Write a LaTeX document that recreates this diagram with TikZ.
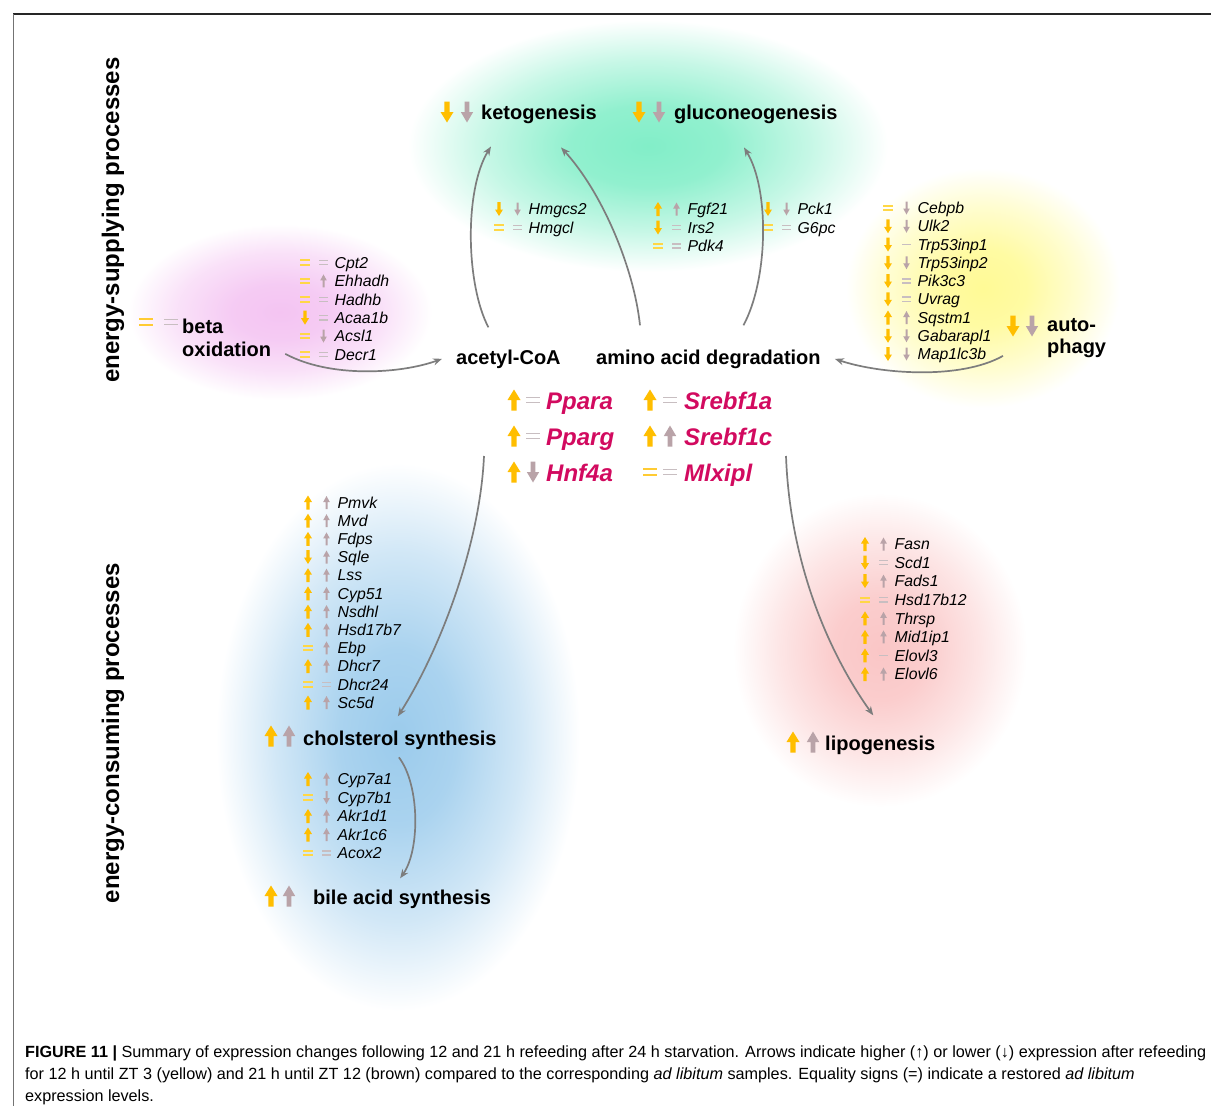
\documentclass[tikz,border=0pt]{standalone}
\usepackage{fontspec}
\setmainfont{Liberation Sans}
\usetikzlibrary{arrows.meta}
\definecolor{ylw}{RGB}{255,190,0}
\definecolor{ylwl}{RGB}{255,215,70}
\definecolor{brn}{RGB}{185,163,168}
\definecolor{brnl}{RGB}{200,190,193}
\definecolor{regc}{RGB}{210,10,95}
\definecolor{lnk}{RGB}{125,125,125}
\definecolor{cG}{RGB}{130,238,200}
\definecolor{cP}{RGB}{244,196,242}
\definecolor{cY}{RGB}{255,250,150}
\definecolor{cB}{RGB}{155,203,236}
\definecolor{cR}{RGB}{250,198,198}
\pgfdeclareradialshading{blobG}{\pgfpoint{0bp}{0bp}}{color(0bp)=(cG); color(8bp)=(cG!88!white); color(17bp)=(cG!45!white); color(25bp)=(white); color(50bp)=(white)}
\pgfdeclareradialshading{blobP}{\pgfpoint{0bp}{0bp}}{color(0bp)=(cP); color(8bp)=(cP!88!white); color(17bp)=(cP!50!white); color(25bp)=(white); color(50bp)=(white)}
\pgfdeclareradialshading{blobY}{\pgfpoint{0bp}{0bp}}{color(0bp)=(cY); color(8bp)=(cY!88!white); color(17bp)=(cY!45!white); color(25bp)=(white); color(50bp)=(white)}
\pgfdeclareradialshading{blobB}{\pgfpoint{0bp}{0bp}}{color(0bp)=(cB); color(8bp)=(cB!85!white); color(17bp)=(cB!45!white); color(25bp)=(white); color(50bp)=(white)}
\pgfdeclareradialshading{blobR}{\pgfpoint{0bp}{0bp}}{color(0bp)=(cR); color(8bp)=(cR!88!white); color(17bp)=(cR!45!white); color(25bp)=(white); color(50bp)=(white)}
\newcommand\myfs[1]{\fontsize{#1}{#1}\selectfont}
\tikzset{
  pics/yup/.style={code={\fill[ylw] (-1.6,7) -- (1.6,7) -- (1.6,-0.5) -- (4,-0.5) -- (0,-7) -- (-4,-0.5) -- (-1.6,-0.5) -- cycle;}},
  pics/ydn/.style={code={\fill[ylw] (-1.6,-7) -- (1.6,-7) -- (1.6,0.5) -- (4,0.5) -- (0,7) -- (-4,0.5) -- (-1.6,0.5) -- cycle;}},
  pics/yeq/.style={code={\fill[ylwl] (-5,-3.2) rectangle (5,-1.2); \fill[ylwl] (-5,1.2) rectangle (5,3.2);}},
  pics/gup/.style={code={\fill[brn] (-1,6.5) -- (1,6.5) -- (1,-0.5) -- (3.3,-0.5) -- (0,-6.5) -- (-3.3,-0.5) -- (-1,-0.5) -- cycle;}},
  pics/gdn/.style={code={\fill[brn] (-1,-6.5) -- (1,-6.5) -- (1,0.5) -- (3.3,0.5) -- (0,6.5) -- (-3.3,0.5) -- (-1,0.5) -- cycle;}},
  pics/geq/.style={code={\fill[brnl] (-4.5,-2.8) rectangle (4.5,-1.3); \fill[brnl] (-4.5,1.3) rectangle (4.5,2.8);}},
  pics/gdash/.style={code={\fill[brnl] (-4.5,-0.8) rectangle (4.5,0.8);}},
  pics/Yup/.style={code={\fill[ylw] (-2.6,10.5) -- (2.6,10.5) -- (2.6,0) -- (6.5,0) -- (0,-10.5) -- (-6.5,0) -- (-2.6,0) -- cycle;}},
  pics/Ydn/.style={code={\fill[ylw] (-2.6,-10.5) -- (2.6,-10.5) -- (2.6,0) -- (6.5,0) -- (0,10.5) -- (-6.5,0) -- (-2.6,0) -- cycle;}},
  pics/Gup/.style={code={\fill[brn] (-2.4,10.5) -- (2.4,10.5) -- (2.4,0) -- (6.2,0) -- (0,-10.5) -- (-6.2,0) -- (-2.4,0) -- cycle;}},
  pics/Gdn/.style={code={\fill[brn] (-2.4,-10.5) -- (2.4,-10.5) -- (2.4,0) -- (6.2,0) -- (0,10.5) -- (-6.2,0) -- (-2.4,0) -- cycle;}},
  pics/Yeq/.style={code={\fill[ylw!80!white] (-7,-4) rectangle (7,-1.6); \fill[ylw!80!white] (-7,1.6) rectangle (7,4);}},
  pics/Geq/.style={code={\fill[brnl] (-7,-3.4) rectangle (7,-1.7); \fill[brnl] (-7,1.7) rectangle (7,3.4);}},
  gene/.style={anchor=base west, inner sep=0pt, font=\myfs{15.8}\itshape},
  proc/.style={anchor=base west, inner sep=0pt, font=\myfs{20}\bfseries},
  regn/.style={anchor=base west, inner sep=0pt, font=\myfs{24}\bfseries\itshape, text=regc},
  side/.style={inner sep=0pt, font=\myfs{24}\bfseries, rotate=90},
  capt/.style={anchor=base west, inner sep=0pt, font=\myfs{16.2}},
  conn/.style={draw=lnk, line width=1.7pt, -{Stealth[length=9pt,width=7pt]}},
}
\newcommand\gn[6]{\pic at (#2,#3) {#4}; \pic at (#2+18.5,#3) {#5}; \node[gene] (#1) at (#2+29.5,#3+5.7) {#6};}
\begin{document}
\begin{tikzpicture}[x=1pt,y=-1pt]
\useasboundingbox (0,0) rectangle (1211,1106);
\fill[white] (0,0) rectangle (1211,1106);
% background blobs
\shade[shading=blobG] (648,146) ellipse [x radius=240, y radius=126];
\shade[shading=blobP] (280,312) ellipse [x radius=152, y radius=88];
\shade[shading=blobY] (983,288) ellipse [x radius=137, y radius=120];
\shade[shading=blobB] (398,737) ellipse [x radius=182, y radius=274];
\shade[shading=blobR] (880,650) ellipse [x radius=147, y radius=157];
% frame
\draw[black!85, line width=1.5pt] (13,14) -- (1211,14);
\draw[black!55, line width=1pt] (13,14) -- (13,1106);
% side labels
\node[side] (esup) at (113,220) {energy-supplying processes};
\node[side] (econ) at (113,733) {energy-consuming processes};
% process labels
\pic at (447,112) {Ydn}; \pic at (467,112) {Gdn};
\node[proc] (keto) at (481,119) {ketogenesis};
\pic at (639,112) {Ydn}; \pic at (659,112) {Gdn};
\node[proc] (gluco) at (674,119) {gluconeogenesis};
\pic at (146,322) {Yeq}; \pic at (171,322) {Geq};
\node[proc] (betaA) at (182,333) {beta};
\node[proc] (betaB) at (182,356) {oxidation};
\pic at (1013,326) {Ydn}; \pic at (1032,326) {Gdn};
\node[proc] (autoA) at (1047,331) {auto-};
\node[proc] (autoB) at (1047,353) {phagy};
\node[proc] (acetyl) at (456,364) {acetyl-CoA};
\node[proc] (amino) at (596,364) {amino acid degradation};
\pic at (271,736) {Yup}; \pic at (289,736) {Gup};
\node[proc] (chol) at (303,745) {cholsterol synthesis};
\pic at (271,896) {Yup}; \pic at (289,896) {Gup};
\node[proc] (bile) at (313,904) {bile acid synthesis};
\pic at (793,742) {Yup}; \pic at (813,742) {Gup};
\node[proc] (lipo) at (825,750) {lipogenesis};
% regulators
\pic at (514,400) {Yup}; \pic at (533,400) {Geq}; \node[regn] (ppara) at (546,409) {Ppara};
\pic at (514,436) {Yup}; \pic at (533,436) {Geq}; \node[regn] (pparg) at (546,445) {Pparg};
\pic at (514,472) {Yup}; \pic at (533,472) {Gdn}; \node[regn] (hnf) at (546,481) {Hnf4a};
\pic at (650,400) {Yup}; \pic at (670,400) {Geq}; \node[regn] (sra) at (684,409) {Srebf1a};
\pic at (650,436) {Yup}; \pic at (670,436) {Gup}; \node[regn] (src) at (684,445) {Srebf1c};
\pic at (650,472) {Yeq}; \pic at (670,472) {Geq}; \node[regn] (mlx) at (684,481) {Mlxipl};
\coordinate (regL) at (484,456);
\coordinate (regR) at (786,456);
% ketogenesis / gluconeogenesis genes
\gn{hmgcs}{499}{209}{ydn}{gdn}{Hmgcs2}
\gn{hmgcl}{499}{227.5}{yeq}{geq}{Hmgcl}
\gn{fgf}{658}{209}{yup}{gup}{Fgf21}
\gn{irs}{658}{227.5}{ydn}{geq}{Irs2}
\gn{pdk}{658}{246}{yeq}{geq}{Pdk4}
\gn{pck}{768}{209}{ydn}{gdn}{Pck1}
\gn{gsp}{768}{227.5}{yeq}{geq}{G6pc}
% beta oxidation genes
\gn{cpt}{305}{262.5}{yeq}{geq}{Cpt2}
\gn{ehh}{305}{280.9}{yeq}{gup}{Ehhadh}
\gn{had}{305}{299.3}{yeq}{geq}{Hadhb}
\gn{aca}{305}{317.7}{ydn}{geq}{Acaa1b}
\gn{acs}{305}{336.1}{yeq}{gdn}{Acsl1}
\gn{dec}{305}{354.5}{yeq}{geq}{Decr1}
% autophagy genes
\gn{ceb}{888}{208}{yeq}{gdn}{Cebpb}
\gn{ulk}{888}{226.25}{ydn}{gdn}{Ulk2}
\gn{trpa}{888}{244.5}{ydn}{gdash}{Trp53inp1}
\gn{trpb}{888}{262.75}{ydn}{gdn}{Trp53inp2}
\gn{pik}{888}{281}{ydn}{geq}{Pik3c3}
\gn{uvr}{888}{299.25}{ydn}{geq}{Uvrag}
\gn{sqs}{888}{317.5}{yup}{gup}{Sqstm1}
\gn{gab}{888}{335.75}{ydn}{gdn}{Gabarapl1}
\gn{map}{888}{354}{ydn}{gdn}{Map1lc3b}
% cholesterol genes
\gn{pmv}{308}{502.5}{yup}{gup}{Pmvk}
\gn{mvd}{308}{520.7}{yup}{gup}{Mvd}
\gn{fdp}{308}{538.9}{yup}{gup}{Fdps}
\gn{sql}{308}{557}{ydn}{gup}{Sqle}
\gn{lss}{308}{575.2}{yup}{gup}{Lss}
\gn{cyp}{308}{593.4}{yup}{gup}{Cyp51}
\gn{nsd}{308}{611.6}{yup}{gup}{Nsdhl}
\gn{hsd}{308}{629.8}{yup}{gup}{Hsd17b7}
\gn{ebp}{308}{647.9}{yeq}{gup}{Ebp}
\gn{dha}{308}{666.1}{yup}{gup}{Dhcr7}
\gn{dhb}{308}{684.3}{yeq}{geq}{Dhcr24}
\gn{scd}{308}{702.5}{yup}{gup}{Sc5d}
% bile acid genes
\gn{cya}{308}{779}{yup}{gup}{Cyp7a1}
\gn{cyb}{308}{797.5}{yeq}{gdn}{Cyp7b1}
\gn{akd}{308}{816}{yup}{gup}{Akr1d1}
\gn{akc}{308}{834.5}{yup}{gup}{Akr1c6}
\gn{acx}{308}{853}{yeq}{geq}{Acox2}
% lipogenesis genes
\gn{fas}{865}{544}{yup}{gup}{Fasn}
\gn{scl}{865}{562.6}{ydn}{geq}{Scd1}
\gn{fad}{865}{581.1}{ydn}{gup}{Fads1}
\gn{hsl}{865}{599.7}{yeq}{geq}{Hsd17b12}
\gn{thr}{865}{618.3}{yup}{gup}{Thrsp}
\gn{mid}{865}{636.9}{yup}{gup}{Mid1ip1}
\gn{ela}{865}{655.4}{yup}{gdash}{Elovl3}
\gn{elb}{865}{674}{yup}{gup}{Elovl6}
% connectors
\draw[conn] ([shift={(14,5)}]betaB.east) .. controls (330,378) and (400,374) .. ([shift={(-14,0)}]acetyl.west);
\draw[conn] ([shift={(-20,-22)}]acetyl.north) .. controls (466,285) and (464,190) .. ([shift={(10,23)}]keto.south west);
\draw[conn] ([shift={(44,-24)}]amino.north west) .. controls (634,268) and (602,192) .. ([shift={(-36,24)}]keto.south east);
\draw[conn] ([shift={(35,-24)}]amino.north) .. controls (768,280) and (770,190) .. ([shift={(70,24)}]gluco.south west);
\draw[conn] ([shift={(-44,8)}]autoB.west) .. controls (960,380) and (880,374) .. ([shift={(14,0)}]amino.east);
\draw[conn] (regL) .. controls (480,545) and (440,650) .. ([shift={(-2,-14)}]chol.north);
\draw[conn] (regR) .. controls (790,565) and (830,655) .. ([shift={(-7,-20)}]lipo.north);
\draw[conn] ([shift={(-1,8)}]chol.south) .. controls (420,785) and (420,850) .. ([shift={(-2,-11)}]bile.north);
% caption
\node[capt] (cap1) at (25,1057) {\textbf{FIGURE 11 |} Summary of expression changes following 12 and 21 h refeeding after 24 h starvation. Arrows indicate higher (↑) or lower (↓) expression after refeeding};
\node[capt] (cap2) at (25,1079) {for 12 h until ZT 3 (yellow) and 21 h until ZT 12 (brown) compared to the corresponding \textit{ad libitum} samples. Equality signs (=) indicate a restored \textit{ad libitum}};
\node[capt] (cap3) at (25,1101) {expression levels.};
\end{tikzpicture}
\end{document}
